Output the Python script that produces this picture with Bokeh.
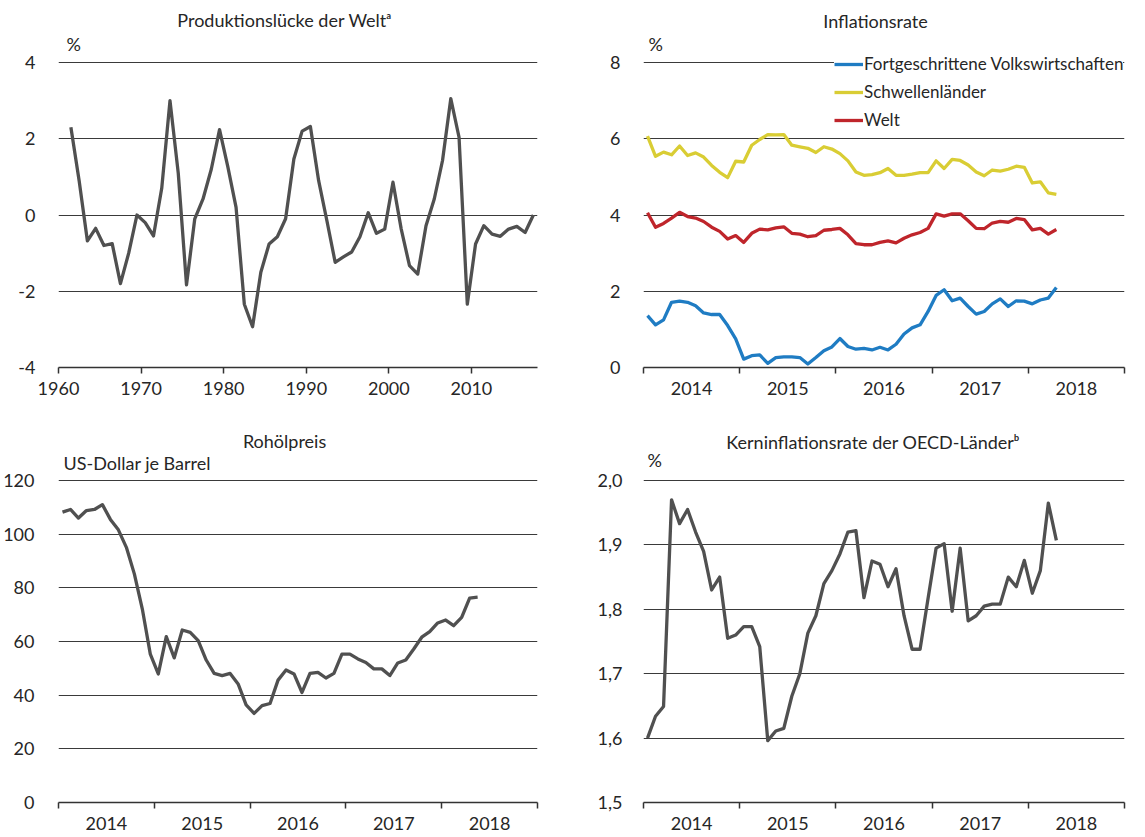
from bokeh.plotting import figure
from bokeh.models import Range1d, FixedTicker, Legend, LegendItem
from bokeh.core.properties import value
from bokeh.layouts import gridplot
from bokeh.embed import file_html
from bokeh.resources import INLINE

FONT = "Lato"
TXT = "#262626"
GRID = "#3a3a3a"
GREY = "#505050"

# ---------------- data ----------------
gap_years = list(range(1961, 2018))
gap_values = [2.3, 0.9, -0.68, -0.35, -0.8, -0.75, -1.8, -1.0, 0.0, -0.2,
              -0.55, 0.7, 3.0, 1.1, -1.83, -0.1, 0.42, 1.2, 2.24, 1.27,
              0.2, -2.34, -2.93, -1.5, -0.76, -0.57, -0.1, 1.47, 2.2, 2.32,
              0.9, -0.15, -1.24, -1.1, -0.97, -0.57, 0.06, -0.48, -0.37, 0.86,
              -0.37, -1.33, -1.55, -0.28, 0.42, 1.43, 3.05, 2.04, -2.34, -0.76,
              -0.28, -0.5, -0.56, -0.37, -0.3, -0.46, 0.0]
gap_xticks = [1960, 1970, 1980, 1990, 2000, 2010]
gap_yticks = [-4, -2, 0, 2, 4]
gap_ylabels = ["-4", "-2", "0", "2", "4"]

# monthly series, first month = January 2014
infl_advanced = [1.36, 1.12, 1.25, 1.71, 1.74, 1.71, 1.62, 1.43, 1.39, 1.39,
                 1.10, 0.75, 0.22, 0.31, 0.33, 0.11, 0.26, 0.28, 0.28, 0.26,
                 0.09, 0.26, 0.44, 0.54, 0.76, 0.55, 0.48, 0.50, 0.46, 0.53,
                 0.46, 0.61, 0.88, 1.04, 1.12, 1.47, 1.89, 2.04, 1.75, 1.82,
                 1.60, 1.40, 1.47, 1.67, 1.80, 1.60, 1.75, 1.74, 1.67, 1.77,
                 1.82, 2.10]
infl_emerging = [6.07, 5.54, 5.65, 5.58, 5.81, 5.56, 5.63, 5.52, 5.30, 5.12,
                 4.98, 5.41, 5.39, 5.83, 5.98, 6.11, 6.10, 6.11, 5.83, 5.79,
                 5.75, 5.64, 5.79, 5.73, 5.61, 5.42, 5.13, 5.04, 5.06, 5.11,
                 5.22, 5.04, 5.04, 5.07, 5.11, 5.11, 5.42, 5.22, 5.46, 5.43,
                 5.31, 5.13, 5.03, 5.18, 5.15, 5.20, 5.28, 5.25, 4.84, 4.87,
                 4.58, 4.54]
infl_world = [4.06, 3.68, 3.78, 3.92, 4.07, 3.96, 3.92, 3.83, 3.68, 3.57,
              3.37, 3.46, 3.28, 3.52, 3.63, 3.61, 3.66, 3.69, 3.52, 3.50,
              3.43, 3.46, 3.60, 3.62, 3.65, 3.48, 3.25, 3.22, 3.22, 3.28,
              3.32, 3.27, 3.39, 3.48, 3.54, 3.65, 4.03, 3.97, 4.03, 4.03,
              3.85, 3.65, 3.64, 3.79, 3.83, 3.81, 3.91, 3.88, 3.61, 3.65,
              3.50, 3.62]
oil_price = [108.2, 109.2, 106.0, 108.8, 109.2, 111.0, 105.5, 101.6, 95.1, 85.2,
             72.1, 55.3, 47.9, 61.8, 53.9, 64.3, 63.4, 60.3, 53.1, 48.1,
             47.3, 48.1, 44.2, 36.4, 33.2, 36.1, 36.9, 45.6, 49.4, 47.9,
             41.0, 48.1, 48.5, 46.4, 48.1, 55.3, 55.3, 53.5, 52.2, 49.8,
             49.8, 47.3, 52.0, 53.1, 57.2, 61.6, 63.7, 66.9, 68.0, 65.9,
             69.0, 76.2, 76.5]
core_infl = [1.600, 1.634, 1.649, 1.970, 1.933, 1.955, 1.920, 1.890, 1.830, 1.850,
             1.755, 1.760, 1.773, 1.773, 1.742, 1.596, 1.611, 1.615, 1.665, 1.700,
             1.763, 1.790, 1.840, 1.860, 1.886, 1.920, 1.922, 1.818, 1.875, 1.870,
             1.835, 1.863, 1.790, 1.738, 1.738, 1.817, 1.895, 1.902, 1.797, 1.895,
             1.782, 1.790, 1.805, 1.808, 1.808, 1.850, 1.835, 1.876, 1.825, 1.860,
             1.965, 1.907]
year_labels = ["2014", "2015", "2016", "2017", "2018"]
infl_yticks = [0, 2, 4, 6, 8]
infl_ylabels = ["0", "2", "4", "6", "8"]
oil_yticks = [0, 20, 40, 60, 80, 100, 120]
oil_ylabels = ["0", "20", "40", "60", "80", "100", "120"]
core_yticks = [1.5, 1.6, 1.7, 1.8, 1.9, 2.0]
core_ylabels = ["1,5", "1,6", "1,7", "1,8", "1,9", "2,0"]
series_names = ["Fortgeschrittene Volkswirtschaften", "Schwellenländer", "Welt"]
series_colors = ["#1f7cc3", "#d9cd34", "#bf252b"]
titles = ["Produktionslücke der Weltᵃ", "Inflationsrate", "Rohölpreis",
          "Kerninflationsrate der OECD-Länderᵇ"]
units = ["%", "%", "US-Dollar je Barrel", "%"]

START_YEAR = 2014
END_YEAR = 2019


def month_x(n):
    return [START_YEAR + (i + 0.5) / 12.0 for i in range(n)]


class Panel:
    """Figure whose frame reaches the top of the canvas, so that the
    heading and unit texts can be placed inside it."""

    def __init__(self, width, height, left, right, bottom,
                 x0, x1, y0, y1, grid_top_px):
        self.frame_w = width - left - right
        self.frame_h = height - bottom
        self.left = left
        self.x0 = x0
        self.ppx = self.frame_w / (x1 - x0)
        self.ppy = (self.frame_h - grid_top_px) / (y1 - y0)
        self.y0 = y0
        xr = Range1d(x0, x1)
        yr = Range1d(y0, y0 + self.frame_h / self.ppy)
        p = figure(width=width, height=height, x_range=xr, y_range=yr,
                   output_backend="svg", toolbar_location=None, title=None,
                   min_border_left=left, min_border_right=right,
                   min_border_top=0, min_border_bottom=bottom)
        p.outline_line_color = None
        p.background_fill_color = "white"
        p.border_fill_color = "white"
        p.xgrid.visible = False
        p.ygrid.grid_line_color = GRID
        p.ygrid.grid_line_width = 1
        for ax in (p.xaxis[0], p.yaxis[0]):
            ax.major_label_text_font = FONT
            ax.major_label_text_font_size = "18px"
            ax.major_label_text_color = TXT
        p.yaxis.axis_line_color = None
        p.yaxis.major_tick_line_color = None
        p.yaxis.minor_tick_line_color = None
        p.xaxis.axis_line_color = "#333333"
        p.xaxis.axis_line_width = 1.6
        self.p = p

    def at(self, px, py):
        """canvas pixel (relative to this figure) -> data coordinates"""
        x = self.x0 + (px - self.left) / self.ppx
        y = self.y0 + (self.frame_h - py) / self.ppy
        return x, y

    def text(self, px, py, txt, align):
        x, y = self.at(px, py)
        self.p.text(x=[x], y=[y], text=[txt], text_font=value(FONT),
                    text_font_size=value("18px"), text_color=TXT,
                    text_align=align, text_baseline="middle")


def set_yticks(p, ticks, labels, grid_ticks, standoff):
    p.yaxis.ticker = FixedTicker(ticks=ticks)
    p.yaxis.major_label_overrides = {t: l for t, l in zip(ticks, labels)}
    p.yaxis.major_label_standoff = standoff
    p.ygrid.ticker = FixedTicker(ticks=grid_ticks)


def set_year_axis(p, standoff):
    mids = [START_YEAR + k + 0.5 for k in range(len(year_labels))]
    bounds = [START_YEAR + k for k in range(len(year_labels) + 1)]
    p.xaxis.ticker = FixedTicker(ticks=mids, minor_ticks=bounds)
    p.xaxis.major_label_overrides = {m: l for m, l in zip(mids, year_labels)}
    p.xaxis.major_tick_line_color = None
    p.xaxis.major_tick_out = 0
    p.xaxis.major_tick_in = 0
    p.xaxis.minor_tick_line_color = "#333333"
    p.xaxis.minor_tick_line_width = 1.5
    p.xaxis.minor_tick_out = 6
    p.xaxis.minor_tick_in = 0
    p.xaxis.major_label_standoff = standoff


LW = 3.3

# ---------- panel 1: output gap ----------
A = Panel(580, 418, 54, 43, 51, 1960, 2018, -4, 4, 62)
p1 = A.p
p1.line([y + 0.5 for y in gap_years], gap_values, line_color=GREY, line_width=LW,
        line_join="round")
set_yticks(p1, gap_yticks, gap_ylabels, [-2, 0, 2, 4], 17)
p1.xaxis.ticker = FixedTicker(ticks=gap_xticks, minor_ticks=[])
p1.xaxis.major_tick_line_color = "#333333"
p1.xaxis.major_tick_line_width = 1.5
p1.xaxis.major_tick_out = 6
p1.xaxis.major_tick_in = 0
p1.xaxis.major_label_standoff = 8
A.text(282, 19, titles[0], "center")
A.text(62, 43, units[0], "left")

# ---------- panel 2: inflation ----------
B = Panel(565, 418, 63, 21, 51, START_YEAR, END_YEAR, 0, 8, 62)
p2 = B.p
xm = month_x(len(infl_advanced))
renderers = []
for vals, col in zip([infl_advanced, infl_emerging, infl_world], series_colors):
    renderers.append(p2.line(xm, vals, line_color=col, line_width=LW, line_join="round"))
set_yticks(p2, infl_yticks, infl_ylabels, [2, 4, 6, 8], 17)
set_year_axis(p2, 8)
B.text(875 - 580, 20, titles[1], "center")
B.text(648 - 580, 43, units[1], "left")
legend = Legend(items=[LegendItem(label=n, renderers=[r]) for n, r in zip(series_names, renderers)],
                location=(191, 237), orientation="vertical",
                label_text_font=FONT, label_text_font_size="17px", label_text_color=TXT,
                glyph_width=29, glyph_height=20, label_standoff=1, spacing=7,
                padding=7, margin=0, border_line_color=None,
                background_fill_color="white", background_fill_alpha=1.0)
p2.add_layout(legend)

# ---------- panel 3: oil price ----------
C = Panel(580, 418, 56, 43, 34, START_YEAR, END_YEAR, 0, 120, 62)
p3 = C.p
p3.line(month_x(len(oil_price)), oil_price, line_color=GREY, line_width=LW,
        line_join="round")
set_yticks(p3, oil_yticks, oil_ylabels, [20, 40, 60, 80, 100, 120], 18)
set_year_axis(p3, 8)
C.text(283, 22, titles[2], "center")
C.text(61, 44, units[2], "left")

# ---------- panel 4: core inflation ----------
D = Panel(565, 418, 62, 21, 34, START_YEAR, END_YEAR, 1.5, 2.0, 62)
p4 = D.p
p4.line(month_x(len(core_infl)), core_infl, line_color=GREY, line_width=LW,
        line_join="round")
set_yticks(p4, core_yticks, core_ylabels, [1.6, 1.7, 1.8, 1.9, 2.0], 15)
set_year_axis(p4, 8)
D.text(872 - 580, 23, titles[3], "center")
D.text(646 - 580, 41, units[3], "left")

grid = gridplot([[p1, p2], [p3, p4]], toolbar_location=None)
open("out.html", "w").write(file_html(grid, INLINE))
